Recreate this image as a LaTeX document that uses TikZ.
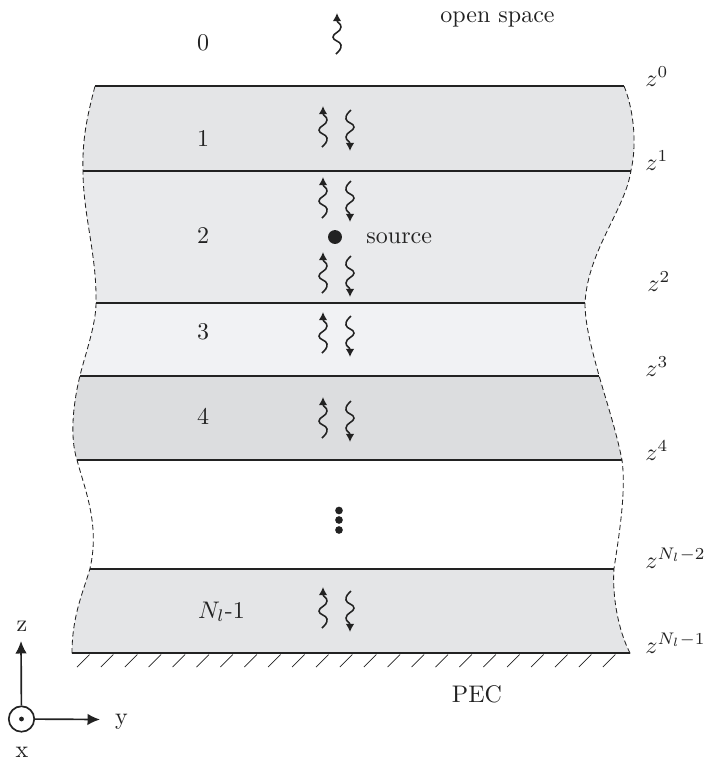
\documentclass[tikz,border=0pt]{standalone}
\usepackage{amsmath,amssymb}
\usepackage{tikz}
\usetikzlibrary{arrows.meta,positioning,calc}
\usepackage{xcolor}

\definecolor{inkdark}{HTML}{222222}
\definecolor{layerA}{HTML}{E4E5E7}
\definecolor{layerB}{HTML}{E9EAEC}
\definecolor{layerC}{HTML}{F1F2F4}
\definecolor{layerD}{HTML}{DCDDDF}

\tikzset{
  sideline/.style={line width=0.35pt,inkdark,dash pattern=on 2.2pt off 1.3pt},
  axisline/.style={line width=0.7pt,inkdark,-{Latex[length=5.2pt,width=4.8pt]}},
  lab/.style={anchor=base,inner sep=0pt,text=inkdark},
  zlab/.style={anchor=base west,inner sep=0pt,text=inkdark},
  wave/.pic={\draw[line width=0.65pt,inkdark,-{Latex[length=3.4pt,width=3.6pt]}]
    (-1,20) .. controls (2,17) and (4.5,15) .. (4,11) .. controls (3.5,7) and (-4,7) .. (-4,3)
    .. controls (-4,-1) and (4,-2) .. (4,-7) .. controls (4,-11) and (0,-11) .. (0,-21);},
}

% outline of the whole stack, clockwise from the top left
\newcommand{\stackoutline}{(l0) -- (r0)
  .. controls (632,105) and (638,140) .. (r1)
  .. controls (625,210) and (588,250) .. (r2)
  .. controls (585,325) and (592,350) .. (r3)
  .. controls (606,400) and (616,430) .. (r4)
  .. controls (626,490) and (620,530) .. (r5)
  .. controls (612,595) and (618,630) .. (r6)
  -- (l6)
  .. controls (72,615) and (84,590) .. (l5)
  .. controls (100,525) and (85,490) .. (l4)
  .. controls (69,435) and (74,400) .. (l3)
  .. controls (85,355) and (96,325) .. (l2)
  .. controls (97,255) and (83,215) .. (l1)
  .. controls (82,135) and (89,110) .. (l0)}

\begin{document}
\begin{tikzpicture}[x=0.4167pt,y=-0.4167pt,>=Latex,font=\normalsize]
\useasboundingbox (0,0) rectangle (711,763);

\foreach \i/\xl/\xr/\y in {0/95/624/86,1/83/631/170.5,2/96/585/303,3/80/599/375.5,4/77/622/460,5/90/614/568.5,6/72/630/653}
  {\coordinate (l\i) at (\xl,\y); \coordinate (r\i) at (\xr,\y);}

% layer colours
\begin{scope}
\clip \stackoutline;
\fill[layerA] (0,86) rectangle (711,170.5);
\fill[layerB] (0,170.5) rectangle (711,303);
\fill[layerC] (0,303) rectangle (711,375.5);
\fill[layerD] (0,375.5) rectangle (711,460);
\fill[layerA] (0,568.5) rectangle (711,653);
\end{scope}

\draw[sideline] \stackoutline;
% filled bars, so that all the interfaces come out equally thick
\foreach \i in {0,...,6} {\fill[inkdark] ($(l\i)+(0,-1)$) rectangle ($(r\i)+(0,1)$);}

% PEC hatching
\foreach \k in {0,...,22} {\draw[line width=0.3pt,inkdark] ($(l6)+(5+23.9*\k,14)$) -- ++(12.5,-12.5);}

% waves
\pic at (337,34) {wave};
\foreach \y in {127,198,273,333,418,608} {
  \pic at (323,\y) {wave};
  \pic[rotate=180] at (350,\y+3) {wave};
}

% source and dots
\fill[inkdark] (335,237) circle (2.9pt);
\foreach \y in {510.5,520,530} {\fill[inkdark] (339,\y) circle (1.6pt);}

\node[zlab] (src) at (366,243.5) {source};
\node[zlab] (open) at (440,22.7) {open space};
\node[lab] (pec) at (477,702) {PEC};

\node[lab] (n0) at (203,50) {0};
\node[lab] (n1) at (203,146) {1};
\node[lab] (n2) at (203,243) {2};
\node[lab] (n3) at (203,339) {3};
\node[lab] (n4) at (203,424) {4};
\node[lab] (nl) at (221.5,618) {$N_l$-1};

\node[zlab] (z0) at (645,86) {$z^{0}$};
\node[zlab] (z1) at (645,170) {$z^{1}$};
\node[zlab] (z2) at (647,291) {$z^{2}$};
\node[zlab] (z3) at (645,376) {$z^{3}$};
\node[zlab] (z4) at (645,460) {$z^{4}$};
\node[zlab] (zn2) at (645,568) {$z^{N_l-2}$};
\node[zlab] (zn1) at (645,653) {$z^{N_l-1}$};

% axes
\node[circle,draw=inkdark,line width=0.7pt,minimum size=10.6pt,inner sep=0pt] (orig) at (21.5,719) {};
\fill[inkdark] (orig.center) circle (1pt);
\coordinate (ztip) at (21,641);
\coordinate (ytip) at (100,719.5);
\draw[axisline] (orig) -- (ztip);
\draw[axisline] (orig) -- (ytip);
\node[lab] (zax) at (22,631) {z};
\node[lab] (yax) at (121.5,724) {y};
\node[lab] (xax) at (22,757) {x};
\end{tikzpicture}
\end{document}
